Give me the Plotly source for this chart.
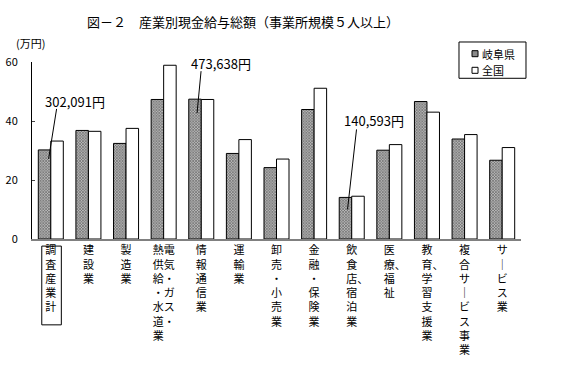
import plotly.graph_objects as go

categories = ["調査産業計", "建設業", "製造業", "電気・ガス・熱供給・水道業", "情報通信業",
              "運輸業", "卸売・小売業", "金融・保険業", "飲食店、宿泊業", "医療、福祉",
              "教育、学習支援業", "複合サービス事業", "サービス業"]
gifu = [30.2, 36.8, 32.4, 47.3, 47.4, 29.0, 24.2, 43.9, 14.1, 30.1, 46.6, 33.9, 26.7]
national = [33.2, 36.5, 37.5, 58.9, 47.3, 33.7, 27.1, 51.1, 14.5, 32.0, 43.0, 35.4, 31.0]
y_ticks = [0, 20, 40, 60]
series_names = ["岐阜県", "全国"]

callout_cats = ["調査産業計", "情報通信業", "飲食店、宿泊業"]
callout_texts = ["302,091円", "473,638円", "140,593円"]
# style: pixel offsets of leader line and text relative to Gifu bar top
callout_style = [
    dict(x0=12, y0=41, x1=4, y1=-9, tx=30, ty=48),
    dict(x0=6, y0=28, x1=2, y1=-14, tx=26, ty=36),
    dict(x0=11, y0=68, x1=2, y1=-12, tx=28, ty=77),
]

FONT = "Noto Sans CJK JP"
GIFU_FILL = "#8a8a8a"


def vertical(label):
    if label == "電気・ガス・熱供給・水道業":
        right = list("電気・ガス・")
        left = list("熱供給・水道業")
        lines = []
        for i in range(len(left)):
            r = right[i] if i < len(right) else "　"
            lines.append(left[i] + r)
        return "<br>".join(lines)
    lines = []
    for c in label:
        if c == "、" and lines:
            lines[-1] = "　" + lines[-1] + "、"
        elif c == "ー":
            lines.append("｜")
        else:
            lines.append(c)
    return "<br>".join(lines)


fig = go.Figure()
fig.add_trace(go.Bar(
    x=categories, y=gifu, name=series_names[0], showlegend=False,
    marker=dict(color="white", line=dict(color="black", width=1),
                pattern=dict(shape="x", fgcolor="black", bgcolor="#b8b8b8", size=2, solidity=0.5)),
))
fig.add_trace(go.Bar(
    x=categories, y=national, name=series_names[1], showlegend=False,
    marker=dict(color="white", line=dict(color="black", width=1)),
))

off = -0.165
annotations = []
shapes = []
for cat, txt, st in zip(callout_cats, callout_texts, callout_style):
    i = categories.index(cat)
    xa = i + off
    ya = gifu[i]
    shapes.append(dict(type="line", xref="x", yref="y", xsizemode="pixel", ysizemode="pixel",
                       xanchor=xa, yanchor=ya, x0=st["x0"], y0=st["y0"], x1=st["x1"], y1=st["y1"],
                       line=dict(color="black", width=1)))
    annotations.append(dict(x=xa, y=ya, xref="x", yref="y", text=txt, showarrow=False,
                            xshift=st["tx"], yshift=st["ty"], font=dict(size=13, family=FONT, color="black")))

annotations.append(dict(x=-0.004, y=1.11, xref="paper", yref="paper", text="(万円)", showarrow=False,
                        xanchor="center", yanchor="middle",
                        font=dict(size=11, family=FONT, color="black")))

# box around the first category label
shapes.append(dict(type="rect", xref="x", yref="paper", x0=-0.24, x1=0.28, y0=-0.04, y1=-0.485,
                   line=dict(color="black", width=1)))

# legend (drawn as layout items)
shapes.append(dict(type="rect", xref="paper", yref="paper", x0=0.8732, x1=1.0102, y0=0.908, y1=1.113,
                   line=dict(color="black", width=1), fillcolor="white"))
shapes.append(dict(type="rect", xref="paper", yref="paper", x0=0.8998, x1=0.9121, y0=1.030, y1=1.064,
                   line=dict(color="black", width=1), fillcolor=GIFU_FILL))
shapes.append(dict(type="rect", xref="paper", yref="paper", x0=0.8998, x1=0.9121, y0=0.936, y1=0.970,
                   line=dict(color="black", width=1), fillcolor="white"))
for name, yy in zip(series_names, [1.0475, 0.953]):
    annotations.append(dict(x=0.916, y=yy, xref="paper", yref="paper", text=name, showarrow=False,
                            xanchor="left", yanchor="middle", font=dict(size=11, family=FONT, color="black")))

fig.update_layout(
    width=572, height=376,
    margin=dict(l=32, r=51, t=62, b=137, autoexpand=False),
    paper_bgcolor="white", plot_bgcolor="white",
    barmode="group", bargap=0.335, bargroupgap=0,
    font=dict(family=FONT, color="black", size=11),
    showlegend=False,
    title=dict(text="図－２　産業別現金給与総額（事業所規模５人以上）", x=0.425, xref="container",
               xanchor="center", y=0.939, yanchor="middle", font=dict(size=13, family=FONT, color="black")),
    xaxis=dict(tickmode="array", tickvals=categories, ticktext=[vertical(c) for c in categories],
               tickangle=0, showline=True, linecolor="#808080", linewidth=2, ticks="",
               showgrid=False, tickfont=dict(size=11, family=FONT)),
    yaxis=dict(range=[0, 60], tickvals=y_ticks, showline=True, linecolor="black", linewidth=1,
               ticks="inside", ticklen=3, showgrid=False, zeroline=False,
               ticklabelstandoff=11, tickfont=dict(size=11, family=FONT)),
    annotations=annotations, shapes=shapes,
)

fig.write_html("out.html", config={"displayModeBar": False},
               post_script="document.body.style.margin='0';")
